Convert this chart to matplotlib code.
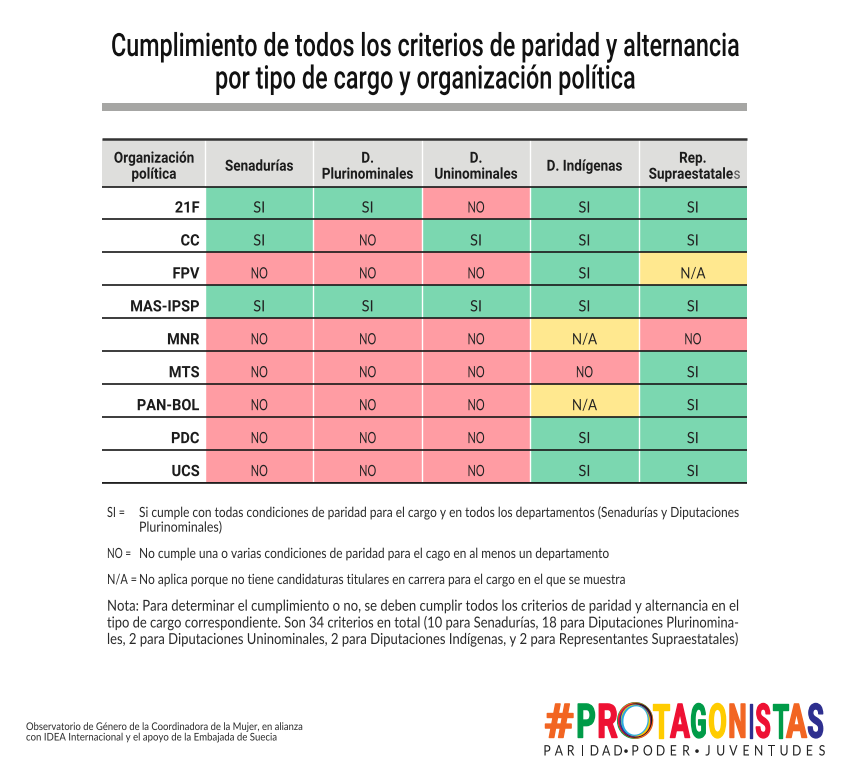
#!/usr/bin/env python3
"""Tabla de cumplimiento de paridad y alternancia por cargo y organizacion."""

import matplotlib
matplotlib.use('Agg')
import matplotlib.pyplot as plt
import matplotlib.patches as mpatches
import matplotlib.patheffects as pe
from matplotlib.text import Text
from matplotlib.transforms import Affine2D, Bbox
import numpy as np

W, H = 850, 781

TITLE = ['Cumplimiento de todos los criterios de paridad y alternancia',
         'por tipo de cargo y organización política']
COLUMNS = ['Senadurías', 'D.\nPlurinominales', 'D.\nUninominales',
           'D. Indígenas', 'Rep.\nSupraestatales']
PARTIES = ['21F', 'CC', 'FPV', 'MAS-IPSP', 'MNR', 'MTS', 'PAN-BOL', 'PDC', 'UCS']

SENADURIAS = ['SI', 'SI', 'NO', 'SI', 'NO', 'NO', 'NO', 'NO', 'NO']
PLURINOM   = ['SI', 'NO', 'NO', 'SI', 'NO', 'NO', 'NO', 'NO', 'NO']
UNINOM     = ['NO', 'SI', 'NO', 'SI', 'NO', 'NO', 'NO', 'NO', 'NO']
INDIGENAS  = ['SI', 'SI', 'SI', 'SI', 'N/A', 'NO', 'N/A', 'SI', 'SI']
SUPRAEST   = ['SI', 'SI', 'N/A', 'SI', 'NO', 'SI', 'SI', 'SI', 'SI']
VALUES = [SENADURIAS, PLURINOM, UNINOM, INDIGENAS, SUPRAEST]

CELL_COLOR = {'SI': '#7BD7B0', 'NO': '#FF9CA3', 'N/A': '#FFE88F'}
CELL_WIDTH = {'SI': 12, 'NO': 17, 'N/A': 25}
HEAD_COLOR = '#DEDEDC'
INK = '#1c1c1c'
NOTE_COLOR = '#2a2a2a'

BODY_FONT = ['Lato', 'DejaVu Sans']
HEAD_FONT = ['Roboto', 'DejaVu Sans']

plt.rcParams['font.family'] = BODY_FONT

fig = plt.figure(figsize=(W / 100, H / 100), dpi=100, facecolor='white')
renderer = fig.canvas.get_renderer()


# The installed fonts have no condensed cut, so scale the glyphs around the anchor.
class Squeeze(pe.AbstractPathEffect):
    def __init__(self, sx, sy=1.0, stroke=0.0):
        super().__init__()
        self.sx, self.sy, self.stroke = sx, sy, stroke
        self.cx, self.cy = 0, 0

    def draw_path(self, renderer, gc, tpath, affine, rgbFace=None):
        extra = (Affine2D().translate(-self.cx, -self.cy).scale(self.sx, self.sy)
                 .translate(self.cx, self.cy))
        if self.stroke:
            gc.set_linewidth(self.stroke)
            gc.set_foreground(rgbFace)
        renderer.draw_path(gc, tpath, affine + extra, rgbFace)


class NarrowText(Text):
    def __init__(self, *args, sx=1.0, sy=1.0, stroke=0.0, **kw):
        super().__init__(*args, **kw)
        self.squeeze = Squeeze(sx, sy, stroke)
        self.set_path_effects([self.squeeze])

    def anchor_px(self):
        return self.get_transform().transform(self.get_position())

    def draw(self, renderer):
        self.squeeze.cx, self.squeeze.cy = self.anchor_px()
        super().draw(renderer)

    def get_window_extent(self, renderer=None, dpi=None):
        bb = super().get_window_extent(renderer, dpi)
        cx, cy = self.anchor_px()
        sx, sy = self.squeeze.sx, self.squeeze.sy
        return Bbox([[cx + (bb.x0 - cx) * sx, cy + (bb.y0 - cy) * sy],
                     [cx + (bb.x1 - cx) * sx, cy + (bb.y1 - cy) * sy]])


def px_text(x, y, s, width=None, sx=1.0, **kw):
    # x, y are picture pixels from the top left; y is the baseline
    kw.setdefault('va', 'baseline')
    kw.setdefault('color', INK)
    t = NarrowText(x / W, 1 - y / H, s, sx=sx, transform=fig.transFigure, **kw)
    fig.add_artist(t)
    if width is not None:
        t.squeeze.sx = width / Text.get_window_extent(t, renderer).width
    return t


# ─── Title ─────────────────────────────────────────────────────────────────────
for y, line, w in zip([56, 88.5], TITLE, [629, 421]):
    px_text(425.5, y, line, width=w, ha='center', family=HEAD_FONT, fontsize=22,
            sy=1.05, fontweight=500, color='#111111')
fig.add_artist(mpatches.Rectangle((102 / W, 1 - 110.5 / H), 645 / W, 7.5 / H,
                                  transform=fig.transFigure, facecolor='#A6A6A4',
                                  edgecolor='none'))

# ─── Table ─────────────────────────────────────────────────────────────────────
# x: one unit per body column, y: one unit per row, header above zero
TOP, BOTTOM = 139, 483
LEFT, RIGHT = 102, 747
HEAD_Y, BODY_X = 186.5, 205
COL_W = (RIGHT - BODY_X) / len(COLUMNS)
ROW_H = (BOTTOM - HEAD_Y) / len(PARTIES)
ax = fig.add_axes([LEFT / W, 1 - BOTTOM / H, (RIGHT - LEFT) / W, (BOTTOM - TOP) / H])
ax.set_xlim(-(BODY_X - LEFT) / COL_W, len(COLUMNS))
ax.set_ylim(len(PARTIES), -(HEAD_Y - TOP) / ROW_H)
ax.axis('off')
y0, x0 = ax.get_ylim()[1], ax.get_xlim()[0]

ax.bar(x0, -y0, width=-x0, bottom=y0, align='edge', color=HEAD_COLOR, zorder=1)
for c, vals in enumerate(VALUES):
    ax.bar(c, -y0, width=1, bottom=y0, align='edge', color=HEAD_COLOR, zorder=1)
    for r, v in enumerate(vals):
        ax.bar(c, 1, width=1, bottom=r, align='edge', color=CELL_COLOR[v], zorder=1)
        t = NarrowText(c + 0.5, r + 0.79, v, transform=ax.transData, ha='center',
                       va='baseline', fontsize=11.2, color='#222222', family=BODY_FONT,
                       zorder=5)
        ax.add_artist(t)
        t.squeeze.sx = CELL_WIDTH[v] / Text.get_window_extent(t, renderer).width

HEAD_KW = dict(fontsize=11, fontweight='bold', family=HEAD_FONT, sx=0.885, color=INK, zorder=6)
for line, y in zip(['Organización', 'política'], [162.7, 178.7]):
    px_text(154, y, line, ha='center', **HEAD_KW)
for c, name in enumerate(COLUMNS):
    xc = BODY_X + (c + 0.5) * COL_W
    lines = name.split('\n')
    if len(lines) == 1:
        px_text(xc, 170.7, name, ha='center', **HEAD_KW)
    elif name.endswith('Supraestatales'):
        # the closing s is fainter in the original
        px_text(xc, 162.7, lines[0], ha='center', **HEAD_KW)
        px_text(733.5, 178.7, lines[1][:-1], ha='right', **HEAD_KW)
        px_text(733.5, 178.7, lines[1][-1], ha='left', sx=0.885, family=HEAD_FONT,
                fontsize=11, color='#555555')
    else:
        px_text(xc, 162.7, lines[0], ha='center', **HEAD_KW)
        px_text(xc, 178.7, lines[1], ha='center', **HEAD_KW)

for r, party in enumerate(PARTIES):
    t = NarrowText(-0.05, r + 0.79, party, sx=0.93, transform=ax.transData, ha='right',
                   va='baseline', fontsize=11.3, fontweight='bold', color=INK,
                   family=HEAD_FONT, zorder=5)
    ax.add_artist(t)

# white column gaps, dark row rules
ax.vlines(np.arange(0, len(COLUMNS)), y0, len(PARTIES), color='white', lw=1.0, zorder=2)
ax.hlines(np.arange(0, len(PARTIES) + 1), x0, len(COLUMNS), color='#1a1a1a', lw=1.2, zorder=3)
ax.hlines(y0, x0, len(COLUMNS), color='#333333', lw=1.8, zorder=3, clip_on=False)
ax.hlines(len(PARTIES), x0, len(COLUMNS), color='#1a1a1a', lw=1.2, zorder=3, clip_on=False)

# ─── Notes ─────────────────────────────────────────────────────────────────────
NOTE_KW = dict(fontsize=10.1, color=NOTE_COLOR)
px_text(107, 517, 'SI =', width=18, **NOTE_KW)
px_text(139, 517, 'Si cumple con todas condiciones de paridad para el cargo y en todos '
        'los departamentos (Senadurías y Diputaciones', width=602, **NOTE_KW)
px_text(139, 531.7, 'Plurinominales)', width=83, **NOTE_KW)
px_text(107, 558, 'NO =', width=24, **NOTE_KW)
px_text(139, 558, 'No cumple una o varias condiciones de paridad para el cago en al menos '
        'un departamento', width=472, **NOTE_KW)
px_text(137, 584, 'N/A =', width=30, ha='right', **NOTE_KW)
px_text(139, 584, 'No aplica porque no tiene candidaturas titulares en carrera para el cargo '
        'en el que se muestra', width=488, **NOTE_KW)
NOTA = ['Nota: Para determinar el cumplimiento o no, se deben cumplir todos los criterios '
        'de paridad y alternancia en el',
        'tipo de cargo correspondiente. Son 34 criterios en total (10 para Senadurías, '
        '18 para Diputaciones Plurinomina-',
        'les, 2 para Diputaciones Uninominales, 2 para Diputaciones Indígenas, y 2 para '
        'Representantes Supraestatales)']
for y, line in zip([610.7, 627.5, 644], NOTA):
    px_text(107, y, line, width=634, fontsize=10.9, color=NOTE_COLOR)

px_text(26, 730, 'Observatorio de Género de la Coordinadora de la Mujer, en alianza',
        width=277, fontsize=7.6, color=NOTE_COLOR)
px_text(26, 740.5, 'con IDEA Internacional y el apoyo de la Embajada de Suecia',
        width=251, fontsize=7.6, color=NOTE_COLOR)

# ─── Logo ──────────────────────────────────────────────────────────────────────
ORANGE, GREEN, RED, YELLOW, NAVY = '#F26522', '#009B48', '#EE1133', '#FFCC00', '#2E2F8F'
LOGO_CHARS  = ['#', 'P', 'R', 'T', 'A', 'G', 'O', 'N', 'I', 'S', 'T', 'A', 'S']
LOGO_X0     = [545, 577, 598, 653, 671, 691, 709, 729, 749, 756, 773, 787, 808]
LOGO_X1     = [573, 595, 617, 669, 689, 706, 726, 746, 753, 770, 788, 806, 823]
LOGO_COLORS = [ORANGE, GREEN, RED, YELLOW, RED, GREEN, YELLOW,
               ORANGE, NAVY, RED, GREEN, ORANGE, NAVY]
for a, b, ch, col in zip(LOGO_X0, LOGO_X1, LOGO_CHARS, LOGO_COLORS):
    px_text((a + b) / 2, 737.5, ch, width=(b - a) * 1.08, ha='center', family=HEAD_FONT,
            fontsize=17, sy=2.0, stroke=1.0, fontweight='bold', color=col, zorder=4)

logo_ax = fig.add_axes([0, 0, 1, 1], zorder=5)
logo_ax.set_xlim(0, W)
logo_ax.set_ylim(H, 0)
logo_ax.axis('off')
logo_ax.patch.set_alpha(0)
# overlapping coloured rings of the big O: colour, centre offset, width, height, angle
RINGS = [(GREEN, 0.0, 36, 37, 20), (ORANGE, 0.5, 35.5, 36.5, -20), ('#1a1a1a', 0.5, 33, 35, 30),
         (RED, -0.5, 33, 33, -30), (NAVY, 0.0, 31, 33, 15), (YELLOW, 0.5, 29, 32, -15),
         ('#29ABE2', 0.0, 27.5, 31, 10), ('white', 0.5, 24, 28.5, 10)]
for col, dx, w, h, ang in RINGS:
    logo_ax.add_patch(mpatches.Ellipse((635 + dx, 720.5), w, h, angle=ang,
                                       facecolor=col, edgecolor='none'))

TAG_WORDS = ['PARIDAD', 'PODER', 'JUVENTUDES']
TAG_X0    = [547, 635, 708]
TAG_X1    = [618, 686, 822]
for word, a, b in zip(TAG_WORDS, TAG_X0, TAG_X1):
    for x, ch in zip(np.linspace(a, b, len(word)), word):
        px_text(x, 755.5, ch, ha='center', sx=0.85, fontsize=10.4, color='#222222')
for x in [626, 697]:
    px_text(x, 754, '•', ha='center', fontsize=7, color='#222222')

fig.savefig('out.png', dpi=100, facecolor='white')
